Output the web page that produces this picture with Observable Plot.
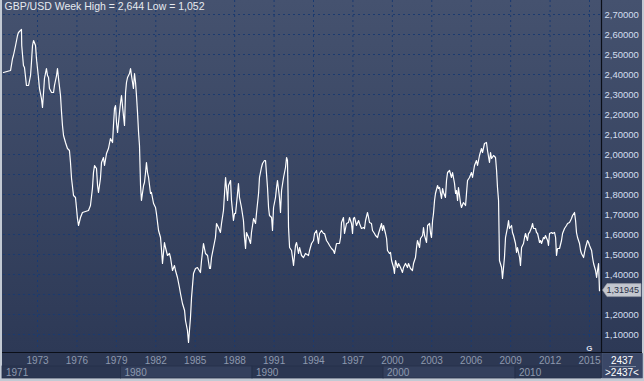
<!DOCTYPE html>
<html>
<head>
<meta charset="utf-8">
<script src="https://cdn.jsdelivr.net/npm/d3@7"></script>
<script src="https://cdn.jsdelivr.net/npm/@observablehq/plot@0.6"></script>
<style>
  html, body { margin: 0; padding: 0; background: #c3cad4; }
  #wrap { position: relative; width: 644px; height: 381px; overflow: hidden; background: #c3cad4; font-family: "Liberation Sans", Arial, sans-serif; }
  #bg { position: absolute; left: 2px; top: 0; width: 640px; height: 352px; background: linear-gradient(#45526f, #2d3956); }
  #band { position: absolute; left: 2px; top: 353px; width: 640px; height: 25px; background: #2d3853; }
  #chart { position: absolute; left: 0; top: 0; }
</style>
</head>
<body>
<div id="wrap"><div id="bg"></div><div id="band"></div><div id="chart"></div></div>
<script>
const title = "GBP/USD Week High = 2,644 Low = 1,052";
const lastValue = 1.31945;
const barCount = "2437";

const xTicks = [1973, 1976, 1979, 1982, 1985, 1988, 1991, 1994, 1997, 2000, 2003, 2006, 2009, 2012, 2015];
const yTicks = [1.1, 1.2, 1.3, 1.4, 1.5, 1.6, 1.7, 1.8, 1.9, 2.0, 2.1, 2.2, 2.3, 2.4, 2.5, 2.6, 2.7];
// the 1,30000 label is covered by the last-price marker in the original
const yLabelTicks = [1.1, 1.2, 1.4, 1.5, 1.6, 1.7, 1.8, 1.9, 2.0, 2.1, 2.2, 2.3, 2.4, 2.5, 2.6, 2.7];

const decadeStarts = [1970.41, 1979.35, 1989.36, 1999.33, 2009.37];
const decadeLabels = ["1971", "1980", "1990", "2000", "2010"];

const years = [
1970.41,1970.95,1971.10,1971.17,1971.33,1971.48,1971.55,1971.78,1971.80,1971.93,1972.01,1972.16,1972.32,1972.47,1972.54,1972.62,1972.70,1972.85,1972.92,
1973.00,1973.08,1973.15,1973.30,1973.38,1973.46,1973.53,1973.68,1973.76,1973.84,1973.91,1974.07,1974.22,1974.29,1974.45,1974.52,1974.60,1974.75,1974.83,1974.90,1974.98,
1975.13,1975.28,1975.43,1975.51,1975.59,1975.74,1975.89,1975.97,1976.04,1976.12,1976.27,1976.42,1976.65,1976.88,1977.03,1977.18,1977.26,1977.34,1977.49,1977.57,1977.64,1977.79,1977.87,
1978.02,1978.10,1978.25,1978.40,1978.55,1978.71,1978.78,1978.86,1978.94,1979.01,1979.09,1979.24,1979.32,1979.39,1979.54,1979.62,1979.70,1979.77,1979.85,
1980.00,1980.08,1980.15,1980.30,1980.38,1980.46,1980.53,1980.61,1980.69,1980.76,1980.84,1980.91,1981.07,1981.14,1981.22,1981.29,1981.37,1981.45,1981.60,1981.67,1981.83,1981.98,
1982.05,1982.21,1982.36,1982.44,1982.51,1982.66,1982.74,1982.89,1983.04,1983.12,1983.27,1983.42,1983.50,1983.65,1983.80,1983.88,1984.03,1984.19,1984.26,1984.41,1984.49,1984.64,1984.72,1984.87,
1985.02,1985.17,1985.40,1985.48,1985.63,1985.78,1985.94,1986.09,1986.16,1986.24,1986.39,1986.54,1986.62,1986.77,1986.92,1987.00,1987.15,1987.23,1987.31,1987.46,1987.53,1987.69,1987.76,1987.91,1987.99,
1988.07,1988.22,1988.29,1988.37,1988.52,1988.67,1988.75,1988.83,1988.90,1989.06,1989.21,1989.28,1989.44,1989.59,1989.66,1989.82,1989.89,
1990.04,1990.12,1990.27,1990.35,1990.50,1990.58,1990.65,1990.81,1990.88,1990.96,1991.11,1991.19,1991.26,1991.41,1991.49,1991.57,1991.72,1991.87,1991.95,
1992.02,1992.06,1992.10,1992.18,1992.33,1992.40,1992.48,1992.63,1992.71,1992.86,1992.94,1993.09,1993.24,1993.39,1993.62,1993.70,1993.85,1994.00,1994.08,1994.23,1994.38,1994.46,1994.61,1994.76,1994.84,1994.99,
1995.14,1995.22,1995.37,1995.52,1995.60,1995.75,1995.98,1996.06,1996.13,1996.28,1996.36,1996.51,1996.66,1996.74,1996.89,1996.97,1997.04,1997.12,1997.27,1997.43,1997.50,1997.65,1997.81,1997.88,1997.96,
1998.11,1998.19,1998.26,1998.41,1998.49,1998.64,1998.72,1998.87,1998.95,1999.02,1999.18,1999.25,1999.33,1999.48,1999.56,1999.63,1999.78,1999.86,1999.94,
2000.09,2000.16,2000.24,2000.39,2000.47,2000.62,2000.77,2000.85,2001.00,2001.15,2001.23,2001.38,2001.53,2001.61,2001.76,2001.84,2001.91,2002.07,2002.14,2002.30,2002.37,2002.45,2002.60,2002.68,2002.83,2002.91,2002.98,
2003.06,2003.13,2003.21,2003.28,2003.44,2003.51,2003.59,2003.74,2003.82,2003.89,2004.04,2004.12,2004.20,2004.35,2004.50,2004.58,2004.73,2004.81,2004.88,2004.96,
2005.03,2005.19,2005.26,2005.41,2005.57,2005.64,2005.72,2005.87,2006.02,2006.10,2006.25,2006.40,2006.48,2006.63,2006.78,2006.86,2007.01,2007.16,2007.24,2007.39,2007.47,2007.55,2007.70,2007.85,2007.93,
2008.00,2008.08,2008.12,2008.15,2008.31,2008.38,2008.46,2008.53,2008.61,2008.76,2008.84,2008.91,2009.07,2009.14,2009.22,2009.37,2009.45,2009.52,2009.68,2009.75,2009.83,2009.98,
2010.06,2010.13,2010.28,2010.36,2010.44,2010.59,2010.67,2010.74,2010.89,2010.97,2011.05,2011.20,2011.27,2011.35,2011.50,2011.58,2011.65,2011.81,2011.88,2011.96,
2012.11,2012.19,2012.34,2012.42,2012.49,2012.57,2012.72,2012.87,2012.95,2013.10,2013.25,2013.33,2013.48,2013.63,2013.71,2013.86,2013.94,
2014.01,2014.09,2014.24,2014.32,2014.39,2014.55,2014.62,2014.70,2014.85,2014.93,2015.00,2015.16,2015.23,2015.31,2015.46,2015.54,2015.61,2015.69,2015.76
];

const values = [
2.41,2.42,2.48,2.495,2.545,2.595,2.61,2.625,2.545,2.445,2.435,2.345,2.345,2.395,2.46,2.545,2.57,2.545,2.48,
2.43,2.38,2.33,2.28,2.235,2.31,2.38,2.43,2.395,2.385,2.33,2.31,2.31,2.345,2.395,2.43,2.38,2.295,2.21,2.145,2.095,
2.06,2.03,2.02,1.96,1.88,1.795,1.785,1.73,1.68,1.645,1.685,1.71,1.715,1.72,1.745,1.83,1.91,1.945,1.93,1.845,1.81,1.88,1.96,
1.985,1.945,2.005,2.03,2.08,2.06,2.145,2.23,2.245,2.16,2.11,2.21,2.26,2.295,2.195,2.145,2.31,2.36,2.385,
2.405,2.43,2.395,2.33,2.405,2.36,2.295,2.21,2.11,2.045,1.845,1.77,1.845,1.86,1.91,1.96,1.91,1.885,1.805,1.81,1.755,1.735,
1.705,1.62,1.585,1.52,1.455,1.56,1.535,1.495,1.505,1.485,1.42,1.445,1.42,1.385,1.335,1.305,1.255,1.22,1.17,1.12,1.06,1.185,1.285,1.405,
1.43,1.435,1.41,1.47,1.555,1.505,1.495,1.43,1.43,1.485,1.535,1.585,1.655,1.635,1.61,1.655,1.72,1.805,1.885,1.77,1.845,1.87,1.77,1.67,1.705,
1.705,1.805,1.855,1.785,1.735,1.67,1.585,1.53,1.61,1.585,1.555,1.61,1.68,1.655,1.705,1.805,1.885,
1.935,1.955,1.97,1.97,1.835,1.735,1.695,1.685,1.62,1.735,1.785,1.835,1.87,1.785,1.71,1.82,1.885,1.935,1.985,
1.97,1.82,1.635,1.535,1.52,1.485,1.445,1.545,1.56,1.505,1.535,1.495,1.485,1.505,1.495,1.52,1.555,1.57,1.605,1.62,1.555,1.605,1.62,1.605,1.605,1.57,
1.555,1.545,1.53,1.52,1.505,1.555,1.555,1.585,1.66,1.685,1.605,1.655,1.66,1.685,1.655,1.605,1.68,1.685,1.645,1.67,1.655,1.63,1.635,1.63,1.67,
1.71,1.685,1.66,1.655,1.62,1.605,1.595,1.585,1.605,1.62,1.655,1.62,1.645,1.605,1.58,1.52,1.505,1.51,1.47,
1.435,1.405,1.47,1.435,1.455,1.435,1.41,1.435,1.455,1.435,1.455,1.43,1.42,1.455,1.485,1.535,1.57,1.535,1.58,1.595,1.635,1.595,1.56,1.645,1.655,1.605,1.585,
1.67,1.705,1.77,1.805,1.845,1.83,1.835,1.78,1.83,1.81,1.785,1.87,1.91,1.92,1.885,1.91,1.855,1.805,1.82,1.77,
1.835,1.755,1.735,1.76,1.745,1.805,1.87,1.885,1.91,1.885,1.945,1.97,1.945,1.995,2.03,2.01,2.055,2.06,2.02,1.96,2.01,1.98,1.995,1.985,1.92,
1.835,1.77,1.605,1.47,1.435,1.38,1.435,1.485,1.585,1.635,1.67,1.63,1.645,1.61,1.595,1.555,1.51,1.535,1.485,1.445,1.535,1.555,
1.585,1.605,1.57,1.605,1.61,1.635,1.655,1.63,1.63,1.61,1.605,1.56,1.57,1.555,1.585,1.58,1.595,1.57,1.545,1.605,
1.61,1.605,1.61,1.585,1.495,1.53,1.53,1.57,1.605,1.63,1.645,1.655,1.66,1.68,1.695,1.71,1.67,
1.61,1.585,1.555,1.52,1.505,1.485,1.51,1.535,1.57,1.56,1.545,1.52,1.485,1.455,1.42,1.385,1.42,1.455,1.31945
];

const data = years.map((t, i) => ({t, v: values[i]}));
const fmtY = d => d3.format(".5f")(d).replace(".", ",");

const grid = {stroke: "#1a3a70", strokeOpacity: 1, strokeDasharray: "2,3", strokeWidth: 1};

const plot = Plot.plot({
  width: 644,
  height: 381,
  marginLeft: 3,
  marginRight: 43,
  marginTop: 0,
  marginBottom: 29,
  style: {background: "transparent", fontFamily: "'Liberation Sans', Arial, sans-serif"},
  x: {domain: [1970.413, 2015.913]},
  y: {domain: [1.01, 2.77]},
  marks: [
    Plot.gridX(xTicks, grid),
    Plot.gridY(yTicks, grid),
    Plot.axisX(xTicks, {tickSize: 0, tickPadding: 4, tickFormat: d => String(d), fill: "#8d99ae", fontSize: 10, label: null}),
    Plot.axisY(yLabelTicks, {anchor: "right", tickSize: 0, tickPadding: 3, tickFormat: fmtY, fill: "#d3def0", fontSize: 9.5, label: null}),
    Plot.line(data, {x: "t", y: "v", stroke: "#ffffff", strokeWidth: 1.2}),
    Plot.text([title], {frameAnchor: "top-left", dx: 1, dy: 2, lineAnchor: "top", textAnchor: "start", fill: "#e6eaf0", fontSize: 10.5}),
    Plot.text(["G"], {frameAnchor: "bottom-right", dx: -9, dy: -2, lineAnchor: "bottom", fill: "#d8dde6", fontSize: 8, fontWeight: "bold"})
  ]
});

document.getElementById("chart").appendChild(plot);

const svg = d3.select(plot);
const xs = plot.scale("x");
const ys = plot.scale("y");
const X = v => xs.apply(v);
const Y = v => ys.apply(v);
const x1 = 601, yb = 352;

// decade row
const dg = svg.insert("g", ":first-child");
decadeStarts.forEach((s, i) => {
  const a = i === 0 ? 2 : X(s);
  const b = i + 1 < decadeStarts.length ? X(decadeStarts[i + 1]) : x1;
  dg.append("rect").attr("x", a).attr("y", 366).attr("width", b - a).attr("height", 12)
    .attr("fill", i % 2 === 1 ? "#34405d" : "#2b3651")
    .attr("stroke", "#26304a").attr("stroke-width", 0.8);
  svg.append("text").attr("x", a + 4).attr("y", 375.5).attr("fill", "#8d99ae")
    .attr("text-anchor", "start").attr("font-size", 10).text(decadeLabels[i]);
});

// frame lines
svg.append("line").attr("x1", 2).attr("x2", 642).attr("y1", yb + 0.5).attr("y2", yb + 0.5).attr("stroke", "#0b0f18").attr("stroke-width", 1.2);
svg.append("line").attr("x1", x1 + 0.5).attr("x2", x1 + 0.5).attr("y1", 0).attr("y2", yb).attr("stroke", "#0b0f18").attr("stroke-width", 1.2);

// bottom-right cell
svg.append("rect").attr("x", x1 + 1.5).attr("y", 353.5).attr("width", 40).attr("height", 24.5).attr("fill", "#3a4767").attr("stroke", "#4a5775").attr("stroke-width", 0.6);
svg.append("text").attr("x", 622).attr("y", 364).attr("text-anchor", "middle").attr("fill", "#ffffff").attr("font-size", 10).text(barCount);
svg.append("line").attr("x1", 609).attr("x2", 636).attr("y1", 366.5).attr("y2", 366.5).attr("stroke", "#8d99ae").attr("stroke-width", 0.8);
svg.append("text").attr("x", 622).attr("y", 376).attr("text-anchor", "middle").attr("fill", "#ffffff").attr("font-size", 10).text(">" + barCount + "<");

// last price marker
const ly = Y(lastValue);
svg.append("path")
  .attr("d", `M${x1 + 1.5},${ly} L${x1 + 6},${ly - 6.5} L${641},${ly - 6.5} L${641},${ly + 6.5} L${x1 + 6},${ly + 6.5} Z`)
  .attr("fill", "#c3c7cf").attr("stroke", "#9aa0aa").attr("stroke-width", 0.6);
svg.append("text").attr("x", x1 + 5.5).attr("y", ly + 3.3).attr("text-anchor", "start").attr("fill", "#2a3148").attr("font-size", 9).text(fmtY(lastValue));
</script>
</body>
</html>
